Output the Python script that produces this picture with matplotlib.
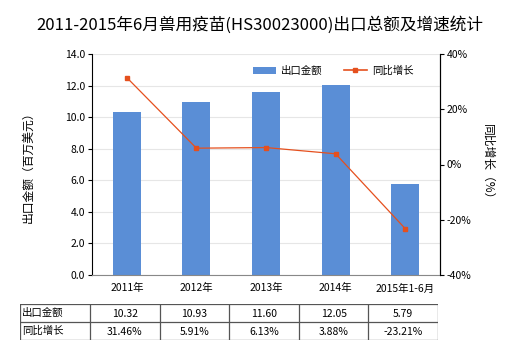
import matplotlib
matplotlib.use("Agg")
import matplotlib.pyplot as plt
from matplotlib.lines import Line2D
from matplotlib.patches import Patch

plt.rcParams['font.family'] = ['Noto Sans CJK SC', 'DejaVu Sans']

categories = ["2011年", "2012年", "2013年", "2014年", "2015年1-6月"]
export_values = [10.32, 10.93, 11.60, 12.05, 5.79]
growth_rates = [31.46, 5.91, 6.13, 3.88, -23.21]
export_labels = ["10.32", "10.93", "11.60", "12.05", "5.79"]
growth_labels = ["31.46%", "5.91%", "6.13%", "3.88%", "-23.21%"]
left_ticks = [0, 2, 4, 6, 8, 10, 12, 14]
right_ticks = [-40, -20, 0, 20, 40]

bar_color = "#5A8ED6"
line_color = "#E5501E"

fig = plt.figure(figsize=(5.2, 3.5), dpi=100)
ax = fig.add_axes([92/520, 1-275/350, (440-92)/520, (275-54)/350])
x = list(range(len(categories)))
ax.bar(x, export_values, width=0.4, color=bar_color, zorder=2)
ax.set_xlim(-0.5, len(categories)-0.5)
ax.set_ylim(0, 14)
ax.set_yticks(left_ticks)
ax.set_yticklabels([f"{t:.1f}" for t in left_ticks], fontsize=7.5)
ax.yaxis.grid(True, color="#E6E6E6", linewidth=0.8, zorder=0)
ax.set_xticks(x)
ax.set_xticklabels(categories, fontsize=7.5)
ax.tick_params(axis='x', length=0, pad=6)
ax.tick_params(axis='y', length=3, width=0.8, pad=2)
ax.spines["top"].set_visible(False)
ax.spines["left"].set_color("black")
ax.spines["bottom"].set_color("#888888")
ax.set_ylabel("出口金额（百万美元）", fontsize=8.5, labelpad=22)

ax2 = ax.twinx()
ax2.plot(x, growth_rates, color=line_color, linewidth=0.9, marker="s", markersize=3.5, zorder=3)
ax2.set_ylim(-40, 40)
ax2.set_yticks(right_ticks)
ax2.set_yticklabels([f"{t}%" for t in right_ticks], fontsize=7.5)
ax2.tick_params(axis='y', length=3, width=0.8, pad=2)
ax2.spines["top"].set_visible(False)
ax2.spines["right"].set_color("black")
ax2.spines["left"].set_visible(False)
ax2.spines["bottom"].set_visible(False)
ax2.set_ylabel("同比增长（%）", fontsize=8.5, rotation=-90, labelpad=16)

handles = [Patch(facecolor=bar_color, edgecolor="none"),
           Line2D([0], [0], color=line_color, linewidth=1.2, marker="s", markersize=3.5)]
ax.legend(handles, ["出口金额", "同比增长"], loc="upper right", bbox_to_anchor=(0.95, 0.99),
          ncol=2, frameon=False, fontsize=7.5, handlelength=2.2, columnspacing=2.0,
          handletextpad=0.5)

fig.suptitle("2011-2015年6月兽用疫苗(HS30023000)出口总额及增速统计", fontsize=12, y=0.955)

# table
tab = fig.add_axes([20/520, 1-340/350, (438-20)/520, (340-304)/350])
tab.set_xlim(20, 438)
tab.set_ylim(340, 304)
tab.axis("off")
col_edges = [20, 90] + [90 + (438-90)/5*(i+1) for i in range(5)]
row_edges = [304, 322, 340]
for yv in row_edges:
    tab.plot([20, 438], [yv, yv], color="#555555", linewidth=0.9)
for xv in col_edges:
    tab.plot([xv, xv], [304, 340], color="#555555", linewidth=0.9)
tab.text(22, 313, "出口金额", fontsize=7.5, va="center", ha="left")
tab.text(22, 331, "同比增长", fontsize=7.5, va="center", ha="left")
for i in range(5):
    cx = (col_edges[i+1] + col_edges[i+2]) / 2
    tab.text(cx, 314, export_labels[i], fontsize=7.5, va="center", ha="center")
    tab.text(cx, 332, growth_labels[i], fontsize=7.5, va="center", ha="center")

fig.savefig("out.png", dpi=100)
